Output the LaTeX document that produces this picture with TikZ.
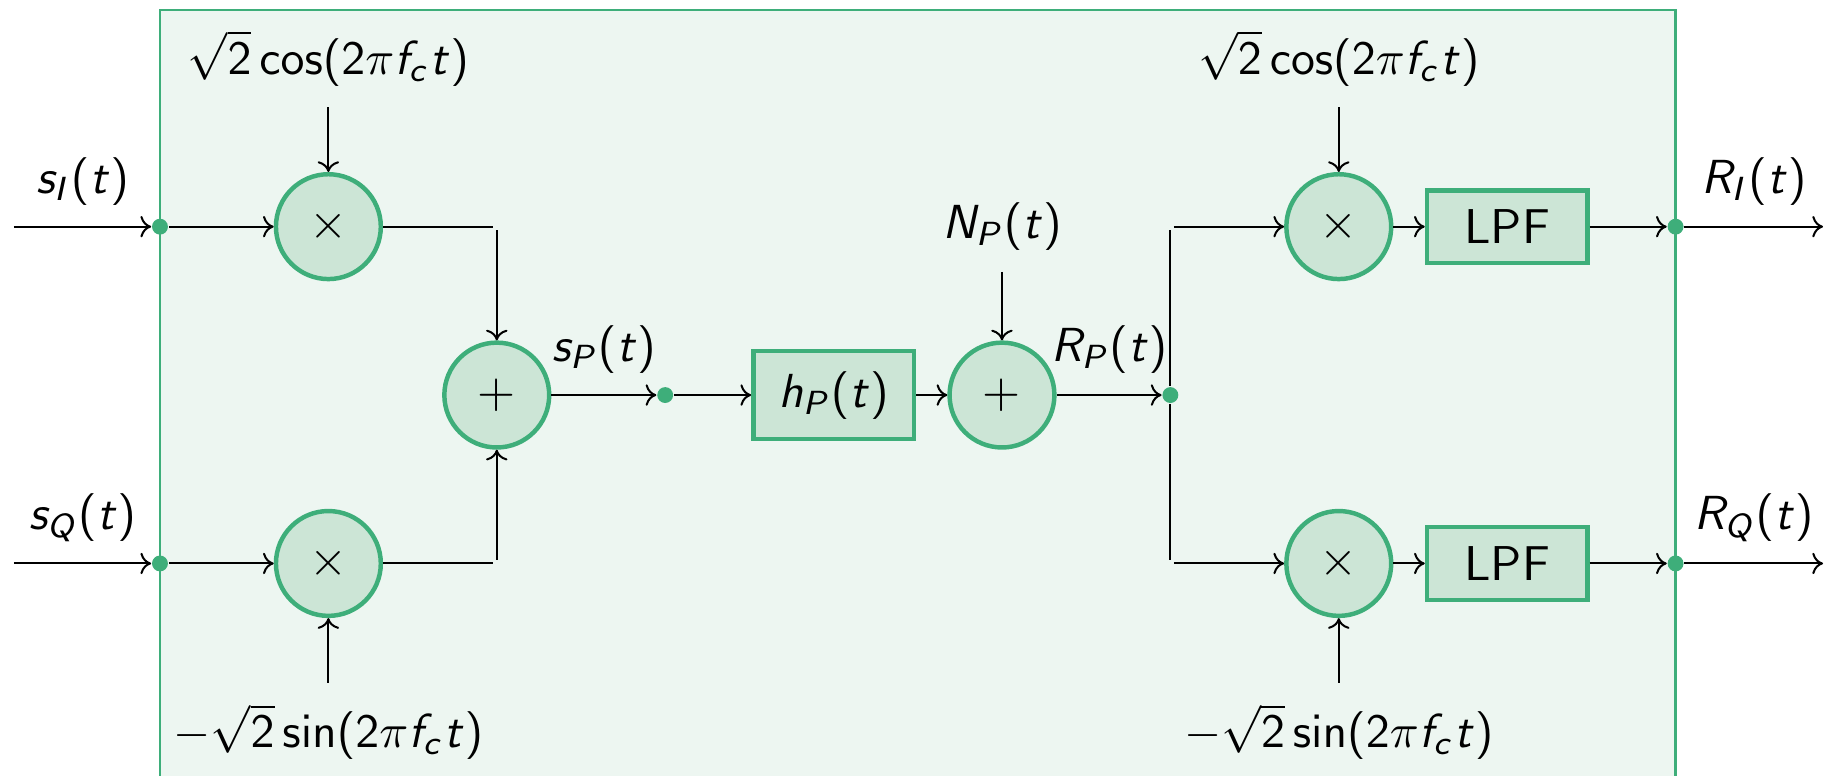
\documentclass[11pt,tikz,border=0pt]{standalone}
\usepackage{fix-cm}
\usepackage{amsmath,amssymb}
\usepackage{tikz}
\usetikzlibrary{positioning,arrows.meta}
\renewcommand{\familydefault}{\sfdefault}
\SetSymbolFont{operators}{normal}{OT1}{cmss}{m}{n}
\DeclareSymbolFont{sfletters}{OT1}{cmss}{m}{sl}
\DeclareMathSymbol{s}{\mathalpha}{sfletters}{`s}
\DeclareMathSymbol{t}{\mathalpha}{sfletters}{`t}
\DeclareMathSymbol{h}{\mathalpha}{sfletters}{`h}
\DeclareMathSymbol{f}{\mathalpha}{sfletters}{`f}
\DeclareMathSymbol{c}{\mathalpha}{sfletters}{`c}
\DeclareMathSymbol{I}{\mathalpha}{sfletters}{`I}
\DeclareMathSymbol{Q}{\mathalpha}{sfletters}{`Q}
\DeclareMathSymbol{P}{\mathalpha}{sfletters}{`P}
\DeclareMathSymbol{R}{\mathalpha}{sfletters}{`R}
\DeclareMathSymbol{N}{\mathalpha}{sfletters}{`N}
\definecolor{sysrule}{RGB}{62,174,122}
\definecolor{sysfill}{RGB}{237,246,241}
\definecolor{blockfill}{RGB}{204,229,214}
\tikzset{
  mixer/.style={circle,draw=sysrule,line width=1pt,fill=blockfill,minimum size=.825cm,inner sep=0pt},
  filterbox/.style={rectangle,draw=sysrule,line width=1pt,fill=blockfill,minimum width=1.262cm,minimum height=.572cm,inner sep=0pt},
  tap/.style={circle,fill=sysrule,minimum size=.125cm,inner sep=0pt},
  carrier/.style={inner sep=4.6pt,font=\fontsize{10.7}{12.8}\selectfont},
  edge/.style={line width=.45pt,-{Computer Modern Rightarrow[length=2.4pt,width=4.8pt]}},
  wire/.style={line width=.45pt,shorten >=.8pt},
  sig/.style={midway,above,inner sep=4.6pt,font=\fontsize{10.7}{12.8}\selectfont}
}

\begin{document}
\begin{tikzpicture}[x=1.325cm,y=1.325cm,node distance=1.325cm and 1.325cm,on grid]
  \useasboundingbox (-.950,-2.262) rectangle (9.929,2.346);
  \fill[sysfill] (0,-2.262) rectangle (9,2.286);
  \draw[sysrule,line width=.5pt] (0,-2.262) -- (0,2.286) -- (9,2.286) -- (9,-2.262);
  % left half
  \node[tap] (tapI) at (0,1) {};
  \node[tap,below=2.65cm of tapI] (tapQ) {};
  \node[mixer,right=of tapI] (mulI) {\(\times\)};
  \node[mixer,right=of tapQ] (mulQ) {\(\times\)};
  \node[mixer,below right=of mulI] (addS) {\(+\)};
  \node[tap,right=of addS] (tapS) {};
  \node[filterbox,minimum height=.693cm,font=\fontsize{10.7}{12.8}\selectfont,right=of tapS] (chan) {\(h_P(t)\)};
  \node[mixer,right=of chan] (addN) {\(+\)};
  \node[tap,right=of addN] (tapR) {};
  \node[carrier,above=of mulI] (cosI) {\(\sqrt{2}\cos(2\pi f_c t)\)};
  \node[carrier,below=of mulQ] (sinQ) {\(-\sqrt{2}\sin(2\pi f_c t)\)};
  \node[carrier,above=of addN] (noise) {\(N_P(t)\)};
  \coordinate[right=of mulI] (turnI);
  \coordinate[right=of mulQ] (turnQ);
  \coordinate[left=1.15cm of tapI] (srcI);
  \coordinate[left=1.15cm of tapQ] (srcQ);
  % right half
  \coordinate[above=of tapR] (forkI);
  \coordinate[below=of tapR] (forkQ);
  \node[mixer,above right=of tapR] (mixI) {\(\times\)};
  \node[mixer,below right=of tapR] (mixQ) {\(\times\)};
  \node[filterbox,right=of mixI] (lpfI) {LPF};
  \node[filterbox,right=of mixQ] (lpfQ) {LPF};
  \node[tap,right=of lpfI] (outI) {};
  \node[tap,right=of lpfQ] (outQ) {};
  \coordinate[right=1.16cm of outI] (dstI);
  \coordinate[right=1.16cm of outQ] (dstQ);
  \node[carrier,above=of mixI] (cosR) {\(\sqrt{2}\cos(2\pi f_c t)\)};
  \node[carrier,below=of mixQ] (sinR) {\(-\sqrt{2}\sin(2\pi f_c t)\)};
  % connectors
  \draw[edge] (srcI) -- node[sig]{\(s_I(t)\)} (tapI);
  \draw[edge] (srcQ) -- node[sig]{\(s_Q(t)\)} (tapQ);
  \draw[edge] (tapI) -- (mulI);
  \draw[edge] (tapQ) -- (mulQ);
  \draw[edge] (cosI) -- (mulI);
  \draw[edge] (sinQ) -- (mulQ);
  \draw[wire] (mulI) -- (turnI);
  \draw[wire] (mulQ) -- (turnQ);
  \draw[edge,shorten <=.8pt] (turnI) -- (addS);
  \draw[edge,shorten <=.8pt] (turnQ) -- (addS);
  \draw[edge] (addS) -- node[sig]{\(s_P(t)\)} (tapS);
  \draw[edge] (tapS) -- (chan);
  \draw[edge] (chan) -- (addN);
  \draw[edge] (noise) -- (addN);
  \draw[edge] (addN) -- node[sig]{\(R_P(t)\)} (tapR);
  \draw[wire] (tapR) -- (forkI);
  \draw[wire] (tapR) -- (forkQ);
  \draw[edge,shorten <=.8pt] (forkI) -- (mixI);
  \draw[edge,shorten <=.8pt] (forkQ) -- (mixQ);
  \draw[edge] (cosR) -- (mixI);
  \draw[edge] (sinR) -- (mixQ);
  \draw[edge] (mixI) -- (lpfI);
  \draw[edge] (mixQ) -- (lpfQ);
  \draw[edge] (lpfI) -- (outI);
  \draw[edge] (lpfQ) -- (outQ);
  \draw[edge] (outI) -- node[sig]{\(R_I(t)\)} (dstI);
  \draw[edge] (outQ) -- node[sig]{\(R_Q(t)\)} (dstQ);
\end{tikzpicture}
\end{document}
